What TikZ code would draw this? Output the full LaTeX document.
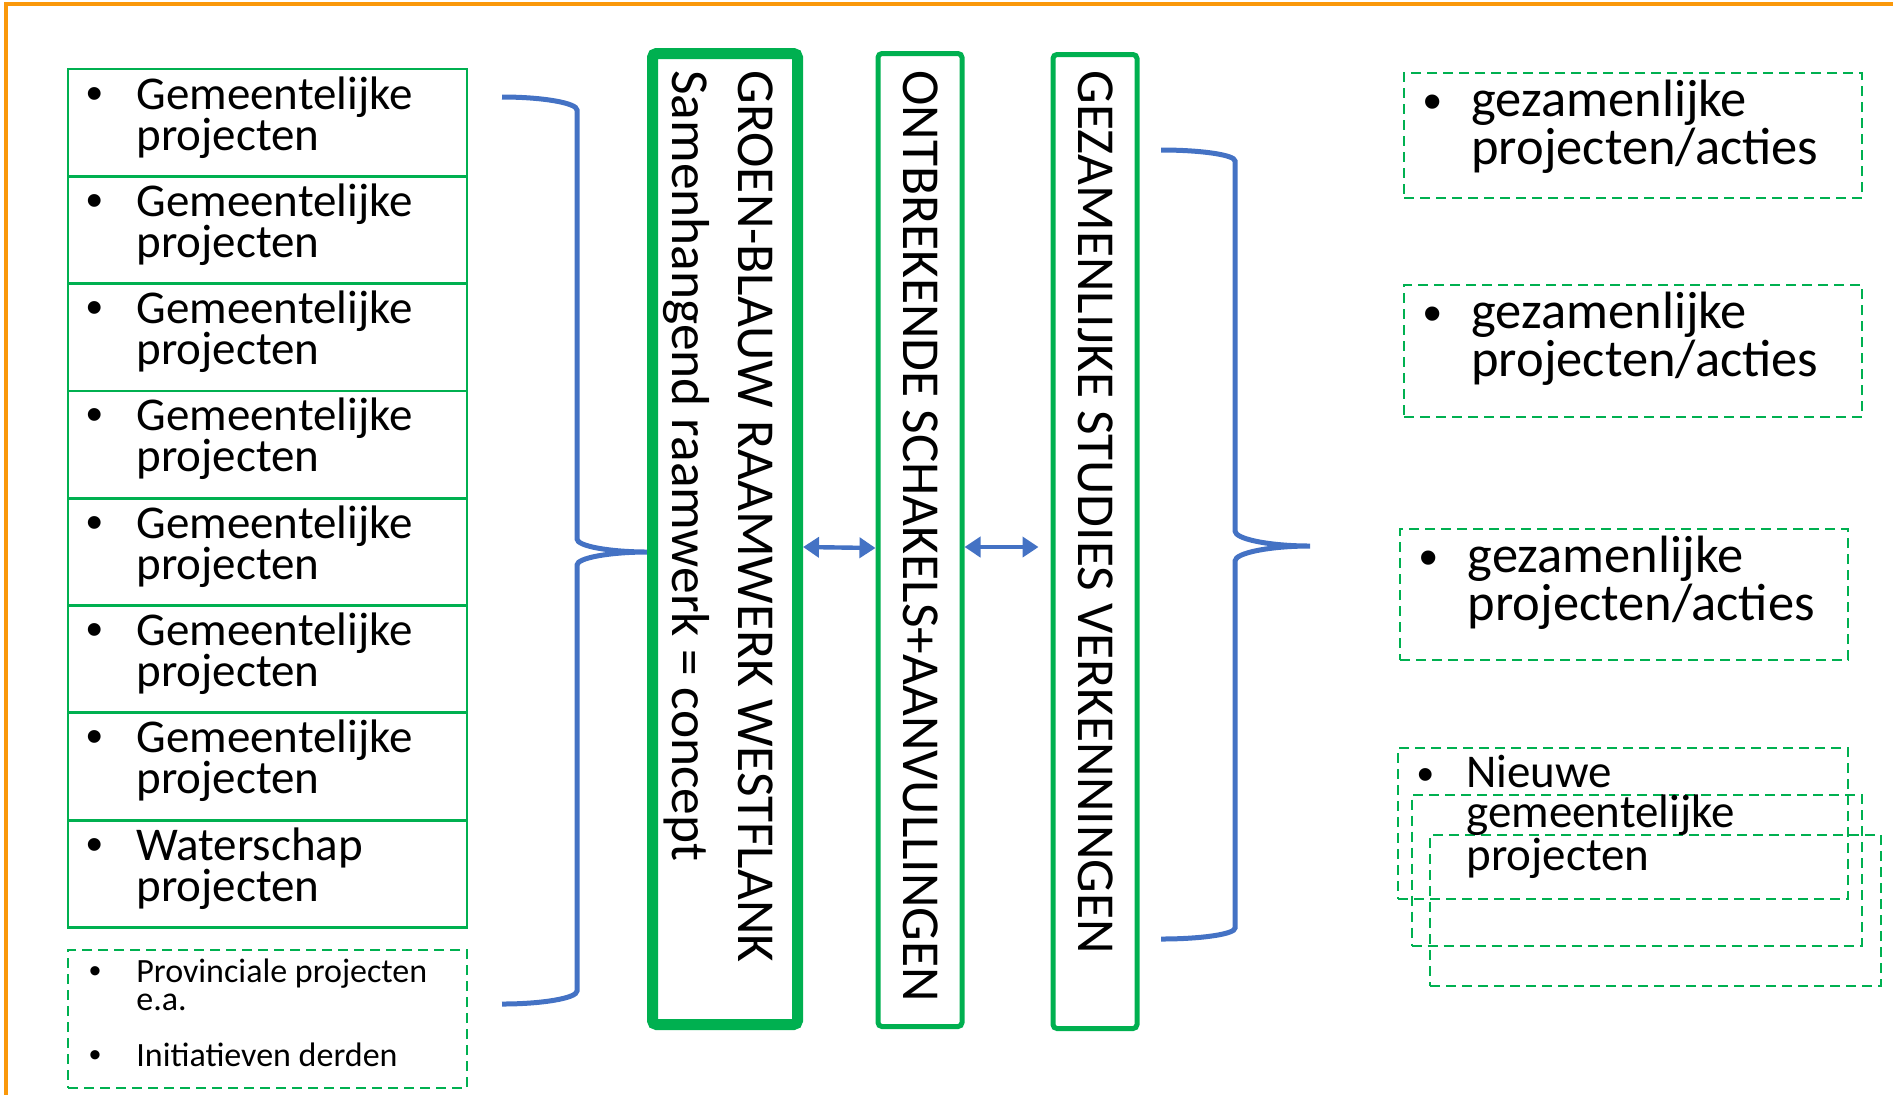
\documentclass[tikz,border=0pt]{standalone}
\usepackage{fontspec}
\setmainfont{Carlito}
\newfontfamily\bulletfont{Liberation Sans}
\usetikzlibrary{arrows.meta}
\definecolor{pptgreen}{RGB}{0,176,80}
\definecolor{pptblue}{RGB}{68,114,196}
\definecolor{frameorange}{RGB}{250,152,10}
\newcommand\leftsize{\fontsize{23.5}{20.5}\selectfont}
\newcommand\rightsize{\fontsize{26.25}{22.5}\selectfont}
\newcommand\smallsize{\fontsize{17}{14}\selectfont}
\newcommand\colsize{\fontsize{26.7}{33}\selectfont}

\tikzset{
  projbox/.style={draw=pptgreen, line width=1.4pt, minimum width=199.5pt, minimum height=53.65pt, inner sep=0pt},
  dashbox/.style={draw=pptgreen, line width=1pt, dash pattern=on 5pt off 3pt, inner sep=0pt},
  colbox/.style={draw=pptgreen, rounded corners=2pt, inner sep=0pt},
  itemtext/.style={anchor=base west, inner sep=0pt, align=left},
  coltext/.style={anchor=base west, inner sep=0pt, align=left, rotate=-90, font=\colsize},
  dot/.style={anchor=base, inner sep=0pt},
  brace/.style={draw=pptblue, line width=2.5pt},
  link/.style={pptblue, line width=2.2pt, {Triangle[length=8pt,width=10pt]}-{Triangle[length=8pt,width=10pt]}},
}

\begin{document}
\begin{tikzpicture}[x=0.5pt,y=-0.5pt]
\useasboundingbox (0,0) rectangle (1893,1094);
% kader
\draw[frameorange, line width=1.75pt] (6,4) rectangle (1910,1110);

% gemeentelijke projecten links (base = laatste regel)
\foreach \i/\word in {0/Gemeentelijke,1/Gemeentelijke,2/Gemeentelijke,3/Gemeentelijke,4/Gemeentelijke,5/Gemeentelijke,6/Gemeentelijke,7/Waterschap} {
  \node[projbox] (p\i) at (267.5,{122.65+107.3*\i}) {};
  \node[dot, font=\bulletfont\leftsize] (pd\i) at (95,{109+107.3*\i}) {•};
  \node[itemtext, font=\leftsize] (pt\i) at (136,{150+107.3*\i}) {\word\\projecten};
}
\node[dashbox, minimum width=199.5pt, minimum height=69pt] (prov) at (267.5,1019) {};
\node[dot, font=\bulletfont\smallsize] (provd1) at (95,982) {•};
\node[itemtext, font=\smallsize] (provt1) at (136,1010) {Provinciale projecten\\e.a.};
\node[dot, font=\bulletfont\smallsize] (provd2) at (95,1066) {•};
\node[itemtext, font=\smallsize] (provt2) at (136,1066) {Initiatieven derden};

% accolade links
\draw[brace] (502,97) .. controls (543,97) and (577,103) .. (577,110) -- (577,539)
  .. controls (577,546) and (609,552) .. (648,552) .. controls (609,552) and (577,558) .. (577,565)
  -- (577,991) .. controls (577,998) and (543,1004) .. (502,1004);

% kolommen
\node[colbox, line width=5.5pt, minimum width=72.5pt, minimum height=485.5pt] (raam) at (725,539) {};
\node[colbox, line width=2.5pt, minimum width=42pt, minimum height=486.5pt] (schakel) at (920,540) {};
\node[colbox, line width=2.5pt, minimum width=42pt, minimum height=487pt] (studie) at (1095,541.5) {};
\node[coltext] (raamt) at (672,70) {GROEN-BLAUW RAAMWERK WESTFLANK\\Samenhangend raamwerk = concept};
\node[coltext] (schakelt) at (903,70) {ONTBREKENDE SCHAKELS+AANVULLINGEN};
\node[coltext] (studiet) at (1078,70) {GEZAMENLIJKE STUDIES VERKENNINGEN};

\draw[link] ([yshift=-4pt]raam.east) -- ([yshift=-4pt]schakel.west);
\draw[link, shorten >=6pt] ([yshift=-3.5pt]schakel.east) -- ([yshift=-3.5pt]schakel.east -| studie.west);

% accolade rechts
\draw[brace] (1161,150) .. controls (1202,150) and (1235,155) .. (1235,161) -- (1235,531)
  .. controls (1235,539) and (1269,546) .. (1310,546) .. controls (1269,546) and (1235,553) .. (1235,561)
  -- (1235,928) .. controls (1235,934) and (1202,939) .. (1161,939);

% gezamenlijke projecten rechts
\node[dashbox, minimum width=229pt, minimum height=62.5pt] (r1) at (1633,135.5) {};
\node[dashbox, minimum width=229pt, minimum height=66pt] (r2) at (1633,351) {};
\node[dashbox, minimum width=224pt, minimum height=65.5pt] (r3) at (1624,594.5) {};
\node[dashbox, minimum width=225pt, minimum height=75.5pt] (r4a) at (1623,823.5) {};
\node[dashbox, minimum width=225pt, minimum height=75.5pt] (r4b) at (1636.7,870) {};
\node[dashbox, minimum width=225.5pt, minimum height=75.5pt] (r4c) at (1655.7,910.5) {};
\node[dot, font=\bulletfont\rightsize] (rd1) at (1433,119) {•};
\node[itemtext, font=\rightsize] (rt1) at (1471,164) {gezamenlijke\\projecten/acties};
\node[dot, font=\bulletfont\rightsize] (rd2) at (1433,331) {•};
\node[itemtext, font=\rightsize] (rt2) at (1471,376) {gezamenlijke\\projecten/acties};
\node[dot, font=\bulletfont\rightsize] (rd3) at (1429,575) {•};
\node[itemtext, font=\rightsize] (rt3) at (1467.5,620) {gezamenlijke\\projecten/acties};
\node[dot, font=\bulletfont\leftsize] (rd4) at (1425.5,790) {•};
\node[itemtext, font=\fontsize{23.5}{20}\selectfont] (rt4) at (1466,870) {Nieuwe\\gemeentelijke\\projecten};
\end{tikzpicture}
\end{document}
